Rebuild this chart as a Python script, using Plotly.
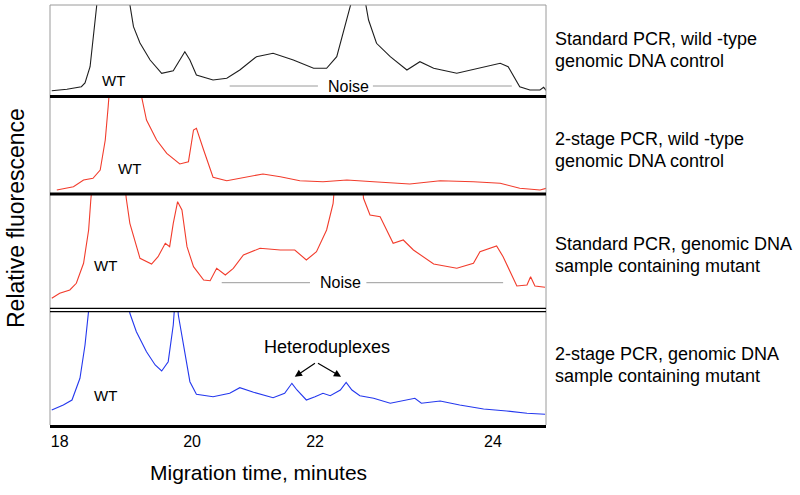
import plotly.graph_objects as go

# ---------------- data (migration time in minutes, relative fluorescence, arbitrary units) -------------
std_wt_time = [17.90, 18.11, 18.31, 18.36, 18.43, 18.47, 18.52, 18.75, 18.97, 19.03, 19.12, 19.26,
               19.42, 19.58, 19.67, 19.74, 19.81, 19.90, 20.13, 20.32, 20.50, 20.73, 20.96, 21.24,
               21.52, 21.70, 21.84, 21.93, 22.00, 22.05, 22.13, 22.23, 22.28, 22.39, 22.58, 22.81,
               22.99, 23.18, 23.50, 23.82, 24.10, 24.21, 24.37, 24.51, 24.65, 24.70, 24.74]
std_wt_rfu = [5.8, 7.2, 9.8, 13.5, 29.8, 56.5, 89.8, 300, 96.5, 69.8, 53.5, 36.5,
              23.2, 25.8, 36.5, 44.8, 36.5, 21.5, 16.5, 18.2, 26.5, 39.8, 43.2, 36.5,
              28.2, 28.2, 39.8, 63.2, 83.2, 96.5, 300, 96.5, 76.5, 53.2, 39.8, 26.5,
              34.8, 28.2, 23.2, 28.2, 33.2, 29.8, 9.8, 6.5, 6.5, 9.2, 5.8]

two_wt_time = [17.97, 18.20, 18.34, 18.47, 18.57, 18.64, 18.68, 18.91, 19.14, 19.21, 19.35, 19.49,
               19.67, 19.79, 19.86, 19.90, 20.00, 20.13, 20.32, 20.60, 20.82, 21.06, 21.33, 21.65,
               21.98, 22.35, 22.85, 23.27, 23.73, 24.10, 24.37, 24.65, 24.74]
two_wt_rfu = [4.0, 7.3, 14.0, 15.7, 24.0, 54.0, 87.3, 300, 98.0, 74.0, 54.0, 40.7,
              30.0, 32.3, 64.0, 65.7, 44.0, 16.7, 13.3, 16.7, 20.0, 17.3, 13.3, 12.3,
              14.0, 12.3, 10.0, 13.3, 12.3, 10.7, 5.7, 4.0, 5.7]

std_mut_time = [17.90, 18.01, 18.15, 18.24, 18.34, 18.41, 18.44, 18.68, 18.93, 18.98, 19.12, 19.28,
                19.37, 19.47, 19.53, 19.58, 19.64, 19.70, 19.77, 19.86, 20.00, 20.09, 20.18, 20.30,
                20.41, 20.55, 20.78, 21.06, 21.26, 21.42, 21.56, 21.70, 21.79, 22.01, 22.21, 22.30,
                22.44, 22.62, 22.76, 22.90, 23.18, 23.50, 23.73, 23.82, 24.05, 24.14, 24.33, 24.47,
                24.52, 24.58, 24.72]
std_mut_rfu = [11.7, 16.7, 20.0, 26.7, 46.7, 80.0, 110.0, 300, 111.7, 86.7, 51.7, 46.0,
               53.3, 66.7, 63.3, 86.7, 108.3, 100.0, 63.3, 43.3, 30.0, 29.3, 41.7, 35.0,
               41.7, 55.0, 61.7, 60.0, 60.0, 50.0, 58.3, 80.0, 106.7, 300, 111.7, 95.0,
               93.3, 66.7, 70.0, 60.0, 46.0, 41.7, 46.7, 58.3, 64.0, 53.3, 24.0, 25.0,
               33.3, 24.0, 22.7]

two_mut_time = [17.90, 18.06, 18.18, 18.29, 18.36, 18.41, 18.68, 18.98, 19.07, 19.21, 19.33, 19.42,
                19.51, 19.58, 19.62, 19.65, 19.72, 19.81, 19.90, 20.13, 20.36, 20.50, 20.69, 20.96,
                21.12, 21.22, 21.29, 21.42, 21.54, 21.65, 21.75, 21.89, 21.97, 22.05, 22.16, 22.35,
                22.58, 22.81, 22.92, 23.01, 23.27, 23.54, 23.87, 24.19, 24.47, 24.72]
two_mut_rfu = [15.0, 20.0, 25.0, 46.7, 80.0, 111.7, 300, 111.7, 93.3, 73.3, 60.0, 54.0,
               63.3, 100.0, 140.0, 110.0, 80.0, 43.3, 30.7, 28.3, 31.7, 37.3, 32.7, 27.3,
               31.7, 41.7, 35.0, 25.0, 28.3, 31.7, 29.3, 35.0, 42.7, 35.0, 29.3, 26.7,
               21.7, 25.0, 26.7, 21.7, 24.0, 20.0, 16.0, 14.0, 11.7, 10.7]

tick_vals = [18.01, 19.84, 21.54, 24.00]
tick_text = ["18", "20", "22", "24"]

panel_labels = [
    ["Standard PCR, wild -type", "genomic DNA control"],
    ["2-stage PCR, wild -type", "genomic DNA control"],
    ["Standard PCR, genomic DNA", "sample containing mutant"],
    ["2-stage PCR, genomic DNA", "sample containing mutant"],
]

# ---------------- figure geometry ----------------
W, H = 800, 495
L, R, T, B = 50, 254, 5, 70
PW, PH = W - L - R, H - T - B


def py(y):  # pixel y -> paper
    return (H - B - y) / PH


def px(x):  # pixel x -> paper
    return (x - L) / PW


FONT = "Liberation Sans, Arial, sans-serif"
BLACK, RED, BLUE = "#1e1e1e", "#f23c2c", "#2438ee"

fig = go.Figure()
traces = [
    (std_wt_time, std_wt_rfu, BLACK, "y"),
    (two_wt_time, two_wt_rfu, RED, "y2"),
    (std_mut_time, std_mut_rfu, RED, "y3"),
    (two_mut_time, two_mut_rfu, BLUE, "y4"),
]
for xs, ys, col, ya in traces:
    fig.add_trace(go.Scatter(x=xs, y=ys, mode="lines", line=dict(color=col, width=1.1),
                             xaxis="x", yaxis=ya, showlegend=False, hoverinfo="skip"))

domains = [[py(96.5), 1.0], [py(194), py(96.5)], [py(310), py(194)], [0.0, py(312)]]
ranges = [[0, 91.5], [0, 97.5], [0, 116], [0, 113]]

layout = dict(
    width=W, height=H, margin=dict(l=L, r=R, t=T, b=B),
    paper_bgcolor="white", plot_bgcolor="white", showlegend=False,
    xaxis=dict(range=[17.876, 24.733], anchor="y4", tickvals=tick_vals, ticktext=tick_text,
               showgrid=False, zeroline=False, showline=True, linecolor="black", linewidth=2.5,
               ticks="",
               tickfont=dict(family=FONT, size=16, color="black")),
)
for i, (dom, rng) in enumerate(zip(domains, ranges)):
    key = "yaxis" if i == 0 else f"yaxis{i+1}"
    layout[key] = dict(domain=dom, range=rng, visible=False, anchor="x", fixedrange=True)
fig.update_layout(**layout)

shapes = []
# frame lines
shapes.append(dict(type="line", xref="paper", yref="paper", x0=0, x1=1, y0=1, y1=1,
                   line=dict(color="#9a9a9a", width=1)))
shapes.append(dict(type="line", xref="paper", yref="paper", x0=0, x1=0, y0=0, y1=1,
                   line=dict(color="#9a9a9a", width=1)))
shapes.append(dict(type="line", xref="paper", yref="paper", x0=1, x1=1, y0=0, y1=1,
                   line=dict(color="#9a9a9a", width=1)))
for yy, wdt in [(96.5, 3), (194, 3), (308.3, 1.3), (311.6, 1.3)]:
    shapes.append(dict(type="line", xref="paper", yref="paper", x0=0, x1=1, y0=py(yy), y1=py(yy),
                       line=dict(color="black", width=wdt)))
# noise indicator lines
for x0, x1, yv, ya in [(20.36, 21.58, 10.5, "y"), (22.34, 24.26, 10.5, "y"),
                       (20.25, 21.47, 27.3, "y3"), (22.25, 24.14, 27.3, "y3")]:
    shapes.append(dict(type="line", xref="x", yref=ya, x0=x0, x1=x1, y0=yv, y1=yv,
                       line=dict(color="#9a9a9a", width=1)))
fig.update_layout(shapes=shapes)

ann = []
for x, y, ya in [(18.75, 16.5, "y"), (18.98, 26.0, "y2"), (18.64, 45.0, "y3"), (18.64, 30.0, "y4")]:
    ann.append(dict(text="WT", x=x, y=y, xref="x", yref=ya, showarrow=False,
                    font=dict(family=FONT, size=15, color="black")))
for x, y, ya in [(22.00, 10.5, "y"), (21.89, 27.3, "y3")]:
    ann.append(dict(text="Noise", x=x, y=y, xref="x", yref=ya, showarrow=False,
                    font=dict(family=FONT, size=16, color="black")))
ann.append(dict(text="Heteroduplexes", x=21.70, y=78.3, xref="x", yref="y4", showarrow=False,
                font=dict(family=FONT, size=18, color="black")))
for hx in [21.26, 21.90]:
    ann.append(dict(text="", x=hx, y=48.3, xref="x", yref="y4", ax=21.56, ay=62.7,
                    axref="x", ayref="y4", showarrow=True, arrowhead=2, arrowsize=1.2,
                    arrowwidth=1.2, arrowcolor="black"))
# panel descriptions
line_y = [(39, 61), (139, 161), (244, 266), (354, 376)]
for lbl, (y1, y2) in zip(panel_labels, line_y):
    for t, yy in zip(lbl, (y1, y2)):
        ann.append(dict(text=t, x=px(553), y=py(yy), xref="paper", yref="paper", xanchor="left",
                        yanchor="middle", showarrow=False,
                        font=dict(family=FONT, size=18, color="black")))
ann.append(dict(text="Relative fluorescence", x=px(16), y=py(218), xref="paper", yref="paper",
                xanchor="center", yanchor="middle",
                textangle=-90, showarrow=False, font=dict(family=FONT, size=23, color="black")))
ann.append(dict(text="Migration time, minutes", x=px(258), y=py(472), xref="paper", yref="paper",
                xanchor="center", yanchor="middle",
                showarrow=False, font=dict(family=FONT, size=21, color="black")))
fig.update_layout(annotations=ann)

fig.write_html("out.html", config={"displayModeBar": False},
               post_script="document.body.style.margin='0';")
